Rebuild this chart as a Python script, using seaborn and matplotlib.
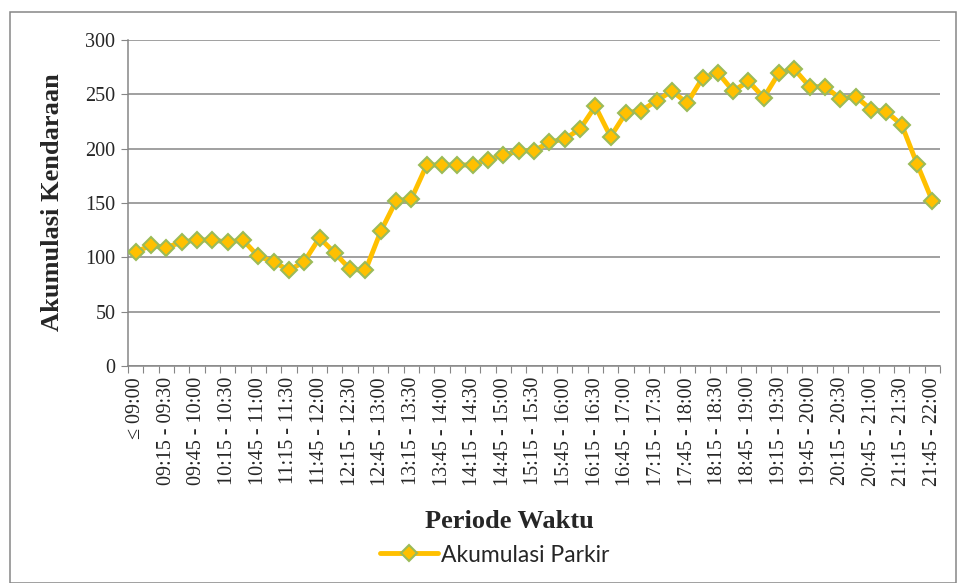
import matplotlib
matplotlib.use("Agg")
import matplotlib.pyplot as plt
import seaborn as sns
import pandas as pd
from matplotlib.patches import Rectangle
from matplotlib.lines import Line2D

# data
periods = [
    "≤ 09:00", "09:00 - 09:15", "09:15 - 09:30", "09:30 - 09:45", "09:45 - 10:00",
    "10:00 - 10:15", "10:15 - 10:30", "10:30 - 10:45", "10:45 - 11:00", "11:00 - 11:15",
    "11:15 - 11:30", "11:30 - 11:45", "11:45 - 12:00", "12:00 - 12:15", "12:15 - 12:30",
    "12:30 - 12:45", "12:45 - 13:00", "13:00 - 13:15", "13:15 - 13:30", "13:30 - 13:45",
    "13:45 - 14:00", "14:00 - 14:15", "14:15 - 14:30", "14:30 - 14:45", "14:45 - 15:00",
    "15:00 - 15:15", "15:15 - 15:30", "15:30 - 15:45", "15:45 - 16:00", "16:00 - 16:15",
    "16:15 - 16:30", "16:30 - 16:45", "16:45 - 17:00", "17:00 - 17:15", "17:15 - 17:30",
    "17:30 - 17:45", "17:45 - 18:00", "18:00 - 18:15", "18:15 - 18:30", "18:30 - 18:45",
    "18:45 - 19:00", "19:00 - 19:15", "19:15 - 19:30", "19:30 - 19:45", "19:45 - 20:00",
    "20:00 - 20:15", "20:15 - 20:30", "20:30 - 20:45", "20:45 - 21:00", "21:00 - 21:15",
    "21:15 - 21:30", "21:30 - 21:45", "21:45 - 22:00",
]
akumulasi = [
    105, 111, 109, 114, 116, 116, 114, 116, 101, 96,
    88, 96, 118, 104, 89, 88, 124, 152, 154, 185,
    185, 185, 185, 190, 194, 198, 198, 206, 209, 218,
    239, 211, 233, 235, 244, 253, 242, 265, 270, 253,
    262, 247, 270, 273, 257, 257, 246, 248, 236, 234,
    222, 186, 152,
]
y_ticks = [0, 50, 100, 150, 200, 250, 300]

line_col = "#FFC000"
edge_col = "#9BBB59"
grid_col = "#868686"

df = pd.DataFrame({"periode": periods, "akumulasi": akumulasi})
df["pos"] = range(len(df))

sns.set_style("white")
plt.rcParams["font.family"] = ["Liberation Serif", "DejaVu Serif"]

fig = plt.figure(figsize=(9.57, 5.83), dpi=100)
ax = fig.add_axes([128 / 957, 1 - 366 / 583, (940 - 128) / 957, (366 - 40) / 583])

sns.lineplot(data=df, x="pos", y="akumulasi", ax=ax, color=line_col, lw=3.5,
             marker="D", markersize=8.5, markerfacecolor=line_col,
             markeredgecolor=edge_col, markeredgewidth=1.5, zorder=3)

ax.set_xlim(-0.5, len(periods) - 0.5)
ax.set_ylim(0, 300)
ax.set_yticks(y_ticks)
ax.tick_params(axis="y", labelsize=14.5, length=5, color=grid_col, direction="out", pad=4, left=True)
ax.yaxis.grid(True, color=grid_col, lw=1.1)
ax.xaxis.grid(False)

# tick marks between categories, labels on every other category
ax.set_xticks([i - 0.5 for i in range(len(periods) + 1)])
ax.set_xticklabels([])
ax.tick_params(axis="x", length=5, color=grid_col, direction="out", bottom=True)
ax.set_xticks(list(range(0, len(periods), 2)), minor=True)
ax.set_xticklabels(periods[::2], minor=True, rotation=90, fontsize=14.5)
ax.tick_params(axis="x", which="minor", length=0, pad=8)

for s in ["top", "right"]:
    ax.spines[s].set_visible(False)
for s in ["left", "bottom"]:
    ax.spines[s].set_color(grid_col)
    ax.spines[s].set_linewidth(1.1)

ax.set_xlabel("")
ax.set_ylabel("")
fig.text(53 / 957, 1 - 202 / 583, "Akumulasi Kendaraan", rotation=90, ha="center", va="center",
         fontsize=19, fontweight="bold")
fig.text(509 / 957, 1 - 522 / 583, "Periode Waktu", ha="center", va="center",
         fontsize=19, fontweight="bold")

handle = Line2D([], [], color=line_col, lw=3.5, marker="D", markersize=8.5,
                markerfacecolor=line_col, markeredgecolor=edge_col, markeredgewidth=1.5)
fig.legend([handle], ["Akumulasi Parkir"], loc="center", bbox_to_anchor=(495 / 957, 1 - 555 / 583),
           frameon=False, prop={"family": "Lato", "size": 16.5}, handlelength=2.5,
           handletextpad=0.15, borderpad=0)

fig.patches.append(Rectangle((10 / 957, 0.5 / 583), 946 / 957, 571 / 583, transform=fig.transFigure,
                             fill=False, edgecolor=grid_col, lw=1.1))

fig.savefig("out.png", dpi=100)
